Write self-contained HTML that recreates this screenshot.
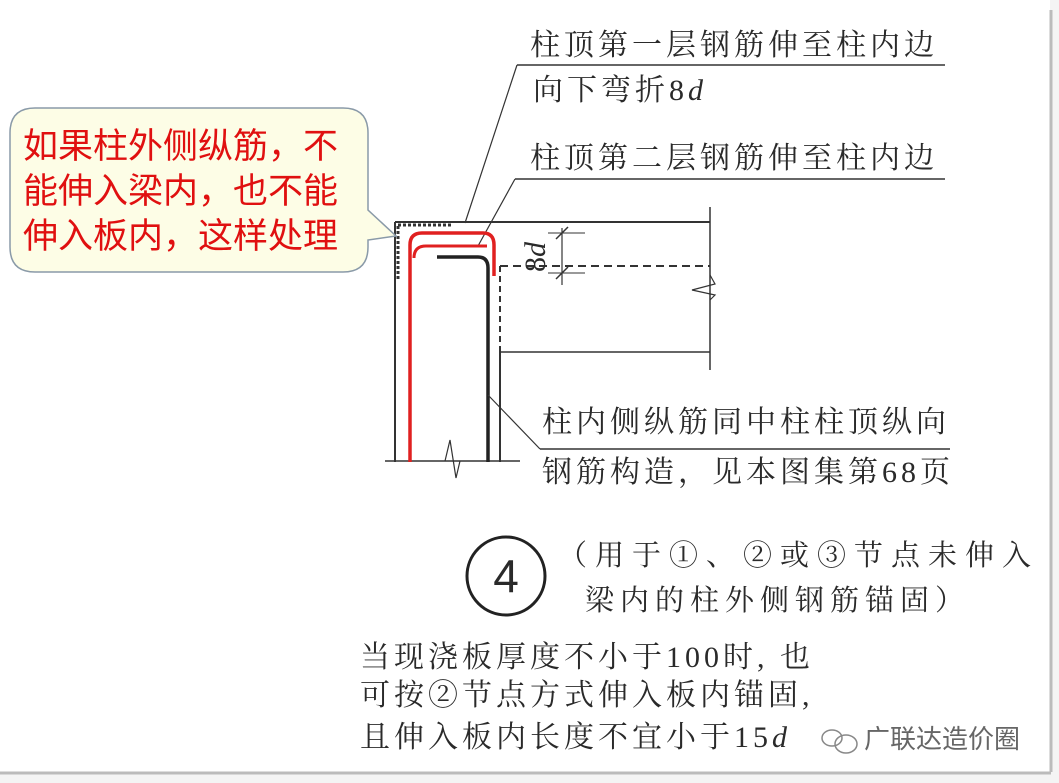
<!DOCTYPE html>
<html><head><meta charset="utf-8">
<style>
html,body{margin:0;padding:0;background:#fff;}
body{width:1059px;height:783px;overflow:hidden;position:relative;}
svg{position:absolute;left:0;top:0;}
text{font-family:"Liberation Serif","Noto Serif CJK SC","Noto Sans CJK SC",serif;fill:#2a2a2a;}
.cn{font-family:"Liberation Sans","Noto Sans CJK SC",sans-serif;}
</style></head><body>
<svg width="1059" height="783" viewBox="0 0 1059 783">
<rect x="0" y="0" width="1059" height="783" fill="#f4f4f4"/>
<rect x="0" y="0" width="1050" height="772" fill="#ffffff"/>
<line x1="1051" y1="10" x2="1051" y2="772" stroke="#bbb" stroke-width="3"/>
<line x1="0" y1="773" x2="1051" y2="773" stroke="#bbb" stroke-width="3"/>

<text x="530" y="55" font-size="30" letter-spacing="4">柱顶第一层钢筋伸至柱内边</text>
<line x1="517" y1="65" x2="945" y2="65" stroke="#333" stroke-width="1.5"/>
<text x="533" y="100" font-size="30" letter-spacing="4">向下弯折8<tspan font-style="italic">d</tspan></text>
<text x="530" y="168" font-size="30" letter-spacing="4">柱顶第二层钢筋伸至柱内边</text>
<line x1="515" y1="179" x2="945" y2="179" stroke="#333" stroke-width="1.5"/>
<line x1="517" y1="65" x2="465" y2="223" stroke="#333" stroke-width="1.2"/>
<line x1="515" y1="179" x2="478" y2="246" stroke="#333" stroke-width="1.2"/>

<line x1="395" y1="222" x2="710" y2="222" stroke="#333" stroke-width="2"/>
<line x1="710" y1="207" x2="710" y2="370" stroke="#333" stroke-width="1.5"/>
<line x1="395" y1="222" x2="395" y2="462" stroke="#333" stroke-width="2"/>
<line x1="500" y1="266" x2="500" y2="352" stroke="#333" stroke-width="2" stroke-dasharray="6,4"/>
<line x1="500" y1="352" x2="500" y2="462" stroke="#333" stroke-width="2"/>
<line x1="500" y1="266" x2="710" y2="266" stroke="#333" stroke-width="2" stroke-dasharray="8,5"/>
<line x1="500" y1="352" x2="710" y2="352" stroke="#333" stroke-width="1.5"/>
<polyline points="710,275 715,284 692,290 715,295 710,300" fill="none" stroke="#333" stroke-width="1.2"/>
<line x1="385" y1="461" x2="520" y2="461" stroke="#333" stroke-width="1.5"/>
<polyline points="445,461 450,440 456,478 460,461" fill="none" stroke="#333" stroke-width="1.2"/>
<line x1="398" y1="226" x2="398" y2="280" stroke="#333" stroke-width="3" stroke-dasharray="3,2"/>
<line x1="398" y1="225" x2="452" y2="225" stroke="#333" stroke-width="3" stroke-dasharray="3,2"/>
<line x1="562" y1="228" x2="562" y2="285" stroke="#333" stroke-width="1.2"/>
<line x1="548" y1="233" x2="585" y2="233" stroke="#333" stroke-width="1"/>
<line x1="548" y1="273" x2="585" y2="273" stroke="#333" stroke-width="1"/>
<line x1="556" y1="239" x2="568" y2="227" stroke="#333" stroke-width="1.5"/>
<line x1="556" y1="279" x2="568" y2="267" stroke="#333" stroke-width="1.5"/>
<text x="0" y="0" font-size="30" transform="translate(545,272) rotate(-90)">8<tspan font-style="italic">d</tspan></text>

<path d="M410,462 L410,245 Q410,233 422,233 L483,233 Q494,233 494,245 L494,276" fill="none" stroke="#e02020" stroke-width="3.5"/>
<path d="M414,258 Q414,246 426,246 L487,246" fill="none" stroke="#e02020" stroke-width="3"/>
<path d="M437,257 L478,257 Q488,257 488,268 L488,462" fill="none" stroke="#222" stroke-width="3.5"/>

<line x1="488" y1="395" x2="540" y2="449" stroke="#333" stroke-width="1.2"/>
<line x1="540" y1="449" x2="950" y2="449" stroke="#333" stroke-width="1.5"/>
<text x="542" y="432" font-size="30" letter-spacing="4">柱内侧纵筋同中柱柱顶纵向</text>
<text x="542" y="482" font-size="30" letter-spacing="4">钢筋构造，见本图集第68页</text>

<circle cx="506" cy="576" r="39" fill="none" stroke="#222" stroke-width="3"/>
<text x="506" y="592" font-size="46" text-anchor="middle" class="cn">4</text>
<text x="558" y="565" font-size="29" letter-spacing="8">（用于①、②或③节点未伸入</text>
<text x="585" y="610" font-size="29" letter-spacing="6">梁内的柱外侧钢筋锚固）</text>

<text x="360" y="667" font-size="30" letter-spacing="4">当现浇板厚度不小于100时, 也</text>
<text x="360" y="705" font-size="30" letter-spacing="4">可按②节点方式伸入板内锚固,</text>
<text x="360" y="747" font-size="30" letter-spacing="4">且伸入板内长度不宜小于15<tspan font-style="italic">d</tspan></text>

<g stroke="#888" stroke-width="1.5" fill="none">
<ellipse cx="832" cy="738" rx="10" ry="8"/>
<ellipse cx="846" cy="744" rx="11" ry="9"/>
</g>
<text x="864" y="748" font-size="26" class="cn" style="fill:#666">广联达造价圈</text>

<path d="M35,108 L343,108 Q368,108 368,133 L368,210 L396,236 L368,240 L368,247 Q368,272 343,272 L35,272 Q10,272 10,247 L10,133 Q10,108 35,108 Z" fill="#fdfde6" stroke="#8a9aa8" stroke-width="1.5"/>
<text x="23" y="158" font-size="35" class="cn" style="fill:#e01010">如果柱外侧纵筋，不</text>
<text x="23" y="203" font-size="35" class="cn" style="fill:#e01010">能伸入梁内，也不能</text>
<text x="23" y="248" font-size="35" class="cn" style="fill:#e01010">伸入板内，这样处理</text>
</svg>
</body></html>
